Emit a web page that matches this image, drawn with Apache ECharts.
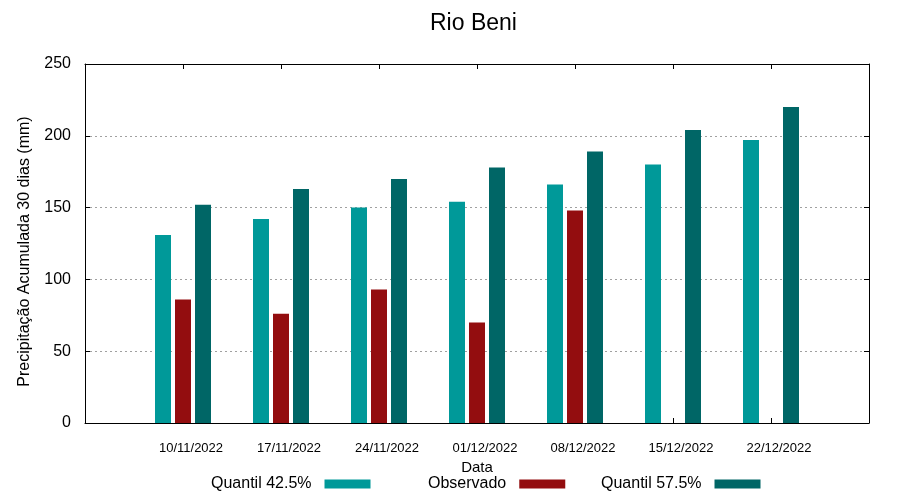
<!DOCTYPE html>
<html>
<head>
<meta charset="utf-8">
<script src="https://cdn.jsdelivr.net/npm/echarts@6/dist/echarts.min.js"></script>
<style>html,body{margin:0;padding:0;background:#fff}#c{width:900px;height:500px}</style>
</head>
<body>
<div id="c"></div>
<script>
var dates = ['10/11/2022','17/11/2022','24/11/2022','01/12/2022','08/12/2022','15/12/2022','22/12/2022'];
var quantil425 = [131, 142, 150, 154, 166, 180, 197];
var observado = [86, 76, 93, 70, 148, null, null];
var quantil575 = [152, 163, 170, 178, 189, 204, 220];
var yTicks = [0, 50, 100, 150, 200, 250];

var cats = [''].concat(dates).concat(['']);
function pad(a){ return [null].concat(a).concat([null]); }

var font = 'Liberation Sans, Arial, sans-serif';
var chart = echarts.init(document.getElementById('c'));
var tickStyle = {show:true, inside:true, length:5, lineStyle:{color:'#000', width:1}};
var lineStyle = {show:true, onZero:false, lineStyle:{color:'#000', width:1}};
var colors = ['#009999', '#930d0f', '#006666'];
var names = ['Quantil 42.5%', 'Observado', 'Quantil 57.5%'];
var legendLeft = [211, 428, 601];

chart.setOption({
  animation: false,
  backgroundColor: '#fff',
  title: {
    text: 'Rio Beni', left: 430, top: 12, padding: 0,
    textStyle: {fontFamily: font, fontSize: 23, fontWeight: 'normal', color: '#000'}
  },
  legend: names.map(function(n, i){
    return {
      data: [n], left: legendLeft[i], top: 476, align: 'right', padding: 0,
      itemWidth: 46, itemHeight: 9, icon: 'rect',
      textStyle: {fontFamily: font, fontSize: 16, color: '#000', padding: [0, 8, 0, 0]}
    };
  }),
  grid: {left: 85, right: 31, top: 64, bottom: 77, containLabel: false},
  xAxis: [{
    type: 'category', data: cats, boundaryGap: false, position: 'bottom',
    name: 'Data', nameLocation: 'middle', nameGap: 37,
    nameTextStyle: {fontFamily: font, fontSize: 15, color: '#000'},
    axisLine: lineStyle, axisTick: tickStyle,
    axisLabel: {fontFamily: font, fontSize: 13, color: '#000', margin: 19, padding: [0,0,0,16], interval: 0},
    splitLine: {show: false}
  }, {
    type: 'category', data: cats, boundaryGap: false, position: 'top',
    axisLine: lineStyle, axisTick: tickStyle, axisLabel: {show: false}, splitLine: {show: false}
  }],
  yAxis: [{
    type: 'value', min: yTicks[0], max: yTicks[yTicks.length-1], interval: 50, position: 'left',
    name: 'Precipitação Acumulada 30 dias (mm)', nameLocation: 'middle', nameGap: 52,
    nameTextStyle: {fontFamily: font, fontSize: 16, color: '#000', padding: [0, 16, 0, 0]},
    axisLine: lineStyle, axisTick: tickStyle,
    axisLabel: {fontFamily: font, fontSize: 16, color: '#000', margin: 14},
    splitLine: {show: true, lineStyle: {color: '#a0a0a0', type: [2, 3], width: 1}}
  }, {
    type: 'value', min: yTicks[0], max: yTicks[yTicks.length-1], interval: 50, position: 'right',
    axisLine: lineStyle, axisTick: tickStyle, axisLabel: {show: false}, splitLine: {show: false}
  }],
  series: [
    {name: names[0], type: 'bar', data: pad(quantil425), barWidth: 16, barGap: '25%', itemStyle: {color: colors[0]}},
    {name: names[1], type: 'bar', data: pad(observado), barWidth: 16, barGap: '25%', itemStyle: {color: colors[1]}},
    {name: names[2], type: 'bar', data: pad(quantil575), barWidth: 16, barGap: '25%', itemStyle: {color: colors[2]}}
  ]
});
</script>
</body>
</html>
